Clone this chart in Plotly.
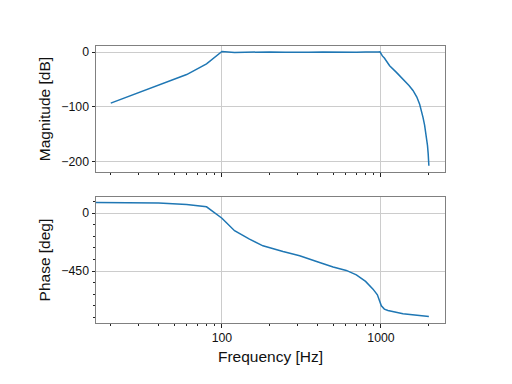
import plotly.graph_objects as go
import numpy as np

# Magnitude response
mag_freq = [20, 40, 60, 80, 100, 120, 140, 160, 200, 250, 300, 350, 430, 500, 600, 700,
            800, 900, 960, 985, 1000, 1020, 1050, 1100, 1133, 1250, 1375, 1500, 1589,
            1680, 1750, 1800, 1837, 1880, 1931, 1960, 1980, 2000]
mag_db = [-93, -61, -41, -21.5, 1, -0.8, -0.3, 0.2, 0.3, -0.2, -0.6, -0.3, 0.2, 0, -0.8, -0.4,
          0.3, -0.7, 0, 0.5, -3, -7, -11, -20, -25, -37, -49, -61, -70,
          -82, -95, -107, -119, -133, -155, -170, -185, -207]

# Phase response
ph_freq = [10, 20, 40, 60, 80, 100, 120, 149, 181, 242, 308, 411, 500, 605, 700, 800,
           891, 949, 980, 1005, 1050, 1106, 1375, 2000]
ph_deg = [85, 84, 78, 67, 49, -40, -137, -202, -254, -298, -331, -383, -418, -445, -479, -530,
          -590, -634, -680, -719, -745, -756, -781, -802]

mag_ticks = [0, -100, -200]
ph_ticks = [0, -450]
x_ticks = [100, 1000]
x_minor = [20, 30, 40, 50, 60, 70, 80, 90, 200, 300, 400, 500, 600, 700, 800, 900, 2000]

# page body adds an 8px offset; work in page coords and subtract it
OFF = 8
W, H = 512 - OFF, 384 - OFF
left, right = 96.3 - OFF, 445.3 - OFF
top1, bot1 = 46.0 - OFF, 172.3 - OFF
top2, bot2 = 197.3 - OFF, 323.3 - OFF
ml, mr, mt, mb = left, W - right, top1, H - bot2
ph = H - mt - mb

fig = go.Figure()
fig.add_trace(go.Scatter(x=mag_freq, y=mag_db, mode="lines",
                         line=dict(color="#1f77b4", width=1.5), xaxis="x", yaxis="y"))
fig.add_trace(go.Scatter(x=ph_freq, y=ph_deg, mode="lines",
                         line=dict(color="#1f77b4", width=1.5), xaxis="x2", yaxis="y2"))

font = "Liberation Sans, Arial, Helvetica, sans-serif"
xrange_log = [np.log10(16.15), np.log10(2526)]

common_x = dict(type="log", range=xrange_log, tickmode="array", tickvals=x_ticks,
                showgrid=True, gridcolor="#cccccc", gridwidth=0.8,
                ticks="outside", ticklen=3.5, tickcolor="#222", tickwidth=0.8,
                showline=True, linecolor="#808080", linewidth=1, mirror=True, zeroline=False,
                automargin=False,
                minor=dict(tickvals=x_minor, ticks="outside", ticklen=2, tickcolor="#222",
                           tickwidth=0.6, showgrid=False),
                tickfont=dict(family=font, size=12.3, color="#111"))

common_y = dict(showgrid=True, gridcolor="#cccccc", gridwidth=0.8, tickmode="array",
                ticks="outside", ticklen=3.5, tickcolor="#222", tickwidth=0.8,
                showline=True, linecolor="#808080", linewidth=1, mirror=True, zeroline=False,
                automargin=False,
                tickfont=dict(family=font, size=12.3, color="#111"))


def dom(top, bot):
    return [(H - mb - bot) / ph, (H - mb - top) / ph]


fig.update_layout(
    width=W, height=H, paper_bgcolor="white", plot_bgcolor="white",
    margin=dict(l=ml, r=mr, t=mt, b=mb, pad=0), showlegend=False,
    font=dict(family=font, color="#111"),
    xaxis=dict(domain=[0, 1], anchor="y", showticklabels=False, **common_x),
    xaxis2=dict(domain=[0, 1], anchor="y2", ticktext=["100", "1000"],
                title=dict(text="Frequency [Hz]", font=dict(family=font, size=15.5), standoff=6),
                **common_x),
    yaxis=dict(domain=dom(top1, bot1), anchor="x", range=[-218.7, 11], tickvals=mag_ticks,
               title=dict(text="Magnitude [dB]", font=dict(family=font, size=15.5), standoff=6),
               **common_y),
    yaxis2=dict(domain=dom(top2, bot2), anchor="x2", range=[-853, 124], tickvals=ph_ticks,
                minor=dict(tick0=0, dtick=90, ticks="outside", ticklen=2, tickcolor="#222",
                           tickwidth=0.6, showgrid=False),
                title=dict(text="Phase [deg]", font=dict(family=font, size=15.5), standoff=6),
                **common_y),
)

fig.write_html("out.html")
